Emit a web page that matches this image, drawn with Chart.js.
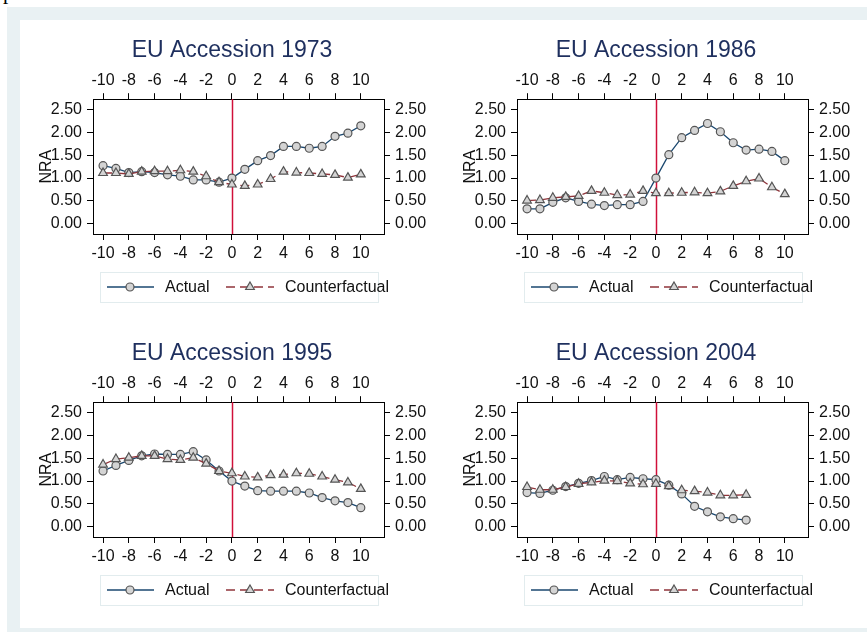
<!DOCTYPE html>
<html>
<head>
<meta charset="utf-8">
<script src="https://cdn.jsdelivr.net/npm/chart.js@4.4.1/dist/chart.umd.min.js"></script>
<style>
  body { margin: 0; width: 867px; height: 632px; overflow: hidden; background: #fff; position: relative; }
  #cut { position: absolute; left: 3px; top: -20px; font: 21px "Liberation Serif", serif; color: #000; }
  #frame { position: absolute; left: 7px; top: 7px; width: 860px; height: 625px; background: #e9f1f3; }
  #inner { position: absolute; left: 20px; top: 20px; width: 847px; height: 608px; background: #fff; }
  canvas { position: absolute; }
</style>
</head>
<body>
<div id="cut">period</div>
<div id="frame"></div>
<div id="inner"></div>
<canvas id="c1973" width="424" height="303" style="left:20px;top:20px"></canvas>
<canvas id="c1986" width="424" height="303" style="left:444px;top:20px"></canvas>
<canvas id="c1995" width="424" height="303" style="left:20px;top:323px"></canvas>
<canvas id="c2004" width="424" height="303" style="left:444px;top:323px"></canvas>
<script>
// years relative to accession
const periods = [-10, -9, -8, -7, -6, -5, -4, -3, -2, -1, 0, 1, 2, 3, 4, 5, 6, 7, 8, 9, 10];
const periods2004 = [-10, -9, -8, -7, -6, -5, -4, -3, -2, -1, 0, 1, 2, 3, 4, 5, 6, 7];
const xTicks = [-10, -8, -6, -4, -2, 0, 2, 4, 6, 8, 10];
const yTicks = [0, 0.5, 1, 1.5, 2, 2.5];
const accessionYear = 0;

const actual1973 = [1.27, 1.21, 1.12, 1.14, 1.12, 1.07, 1.04, 0.96, 0.96, 0.91, 1.00, 1.19, 1.38, 1.49, 1.69, 1.69, 1.65, 1.69, 1.91, 1.98, 2.14];
const cf1973 = [1.11, 1.11, 1.09, 1.14, 1.15, 1.15, 1.17, 1.14, 1.04, 0.91, 0.86, 0.83, 0.86, 0.98, 1.14, 1.12, 1.11, 1.09, 1.07, 1.01, 1.08];

const actual1986 = [0.33, 0.33, 0.47, 0.57, 0.49, 0.43, 0.40, 0.42, 0.42, 0.49, 1.00, 1.51, 1.88, 2.04, 2.19, 2.01, 1.77, 1.61, 1.63, 1.58, 1.38];
const cf1986 = [0.51, 0.52, 0.57, 0.59, 0.61, 0.72, 0.68, 0.63, 0.64, 0.72, 0.67, 0.67, 0.68, 0.69, 0.67, 0.71, 0.83, 0.93, 0.99, 0.80, 0.65];

const actual1995 = [1.22, 1.34, 1.45, 1.55, 1.59, 1.58, 1.58, 1.64, 1.46, 1.22, 1.00, 0.89, 0.79, 0.78, 0.78, 0.78, 0.74, 0.64, 0.57, 0.53, 0.42];
const cf1995 = [1.36, 1.48, 1.51, 1.55, 1.55, 1.48, 1.46, 1.51, 1.38, 1.22, 1.17, 1.10, 1.08, 1.13, 1.14, 1.17, 1.16, 1.10, 1.03, 0.97, 0.83];

const actual2004 = [0.75, 0.73, 0.80, 0.88, 0.95, 1.01, 1.10, 1.03, 1.08, 1.05, 1.03, 0.91, 0.72, 0.45, 0.33, 0.22, 0.18, 0.15];
const cf2004 = [0.87, 0.81, 0.81, 0.87, 0.94, 0.97, 1.01, 1.00, 0.95, 0.93, 0.94, 0.89, 0.80, 0.78, 0.75, 0.69, 0.69, 0.70];

const FONT = '"Liberation Sans", Arial, sans-serif';
const navy = '#1a476f';
const maroon = '#90353b';
const markerFill = '#d4d4d4';
const markerEdge = '#555555';

// vertical line at the accession year
const accessionLine = {
  id: 'accessionLine',
  beforeDatasetsDraw(chart) {
    const { ctx, chartArea: a, scales } = chart;
    const x = Math.round(scales.x.getPixelForValue(accessionYear)) + 0.5;
    ctx.save();
    ctx.strokeStyle = '#d0103a';
    ctx.lineWidth = 1.5;
    ctx.beginPath();
    ctx.moveTo(x, a.top);
    ctx.lineTo(x, a.bottom);
    ctx.stroke();
    ctx.restore();
  }
};

// stata-style legend: line + marker + label, in a light box under the plot
const legendBox = {
  id: 'legendBox',
  afterDraw(chart) {
    const { ctx, chartArea: a } = chart;
    const cy = a.bottom + 53;
    const items = [
      { ds: chart.data.datasets[0], from: 14, to: 61, mark: 37, text: 72 },
      { ds: chart.data.datasets[1], from: 133, to: 181, mark: 157, text: 192 }
    ];
    ctx.save();
    ctx.strokeStyle = '#e2ecee';
    ctx.lineWidth = 1;
    ctx.strokeRect(a.left + 7.5, cy - 14.5, 278, 30);
    items.forEach(it => {
      ctx.strokeStyle = it.ds.borderColor;
      ctx.lineWidth = 1.3;
      ctx.setLineDash(it.ds.borderDash || []);
      ctx.beginPath();
      ctx.moveTo(a.left + it.from, cy);
      ctx.lineTo(a.left + it.to, cy);
      ctx.stroke();
      ctx.setLineDash([]);
      ctx.fillStyle = markerFill;
      ctx.strokeStyle = markerEdge;
      ctx.lineWidth = 1.2;
      Chart.helpers.drawPoint(ctx, { pointStyle: it.ds.pointStyle, radius: it.ds.pointRadius, borderWidth: 1.2, rotation: 0 }, a.left + it.mark, cy);
      ctx.fillStyle = '#111';
      ctx.font = '16px ' + FONT;
      ctx.textBaseline = 'middle';
      ctx.fillText(it.ds.label, a.left + it.text, cy + 1);
    });
    ctx.restore();
  }
};

function xAxis(position) {
  return {
    type: 'linear', position, min: -10.78, max: 11.8,
    afterBuildTicks: s => { s.ticks = xTicks.map(v => ({ value: v })); },
    afterFit: s => { s.height = position === 'top' ? 34.6 : 89; },
    grid: { drawOnChartArea: false, drawTicks: true, tickLength: 6, color: '#000' },
    border: { display: true, color: '#000', width: 1 },
    ticks: { color: '#111', font: { size: 16, family: FONT }, padding: position === 'top' ? 3 : 4, maxRotation: 0, autoSkip: false }
  };
}

function yAxis(position) {
  return {
    type: 'linear', position, min: -0.22, max: 2.72,
    afterBuildTicks: s => { s.ticks = yTicks.map(v => ({ value: v })); },
    afterFit: s => { s.width = position === 'left' ? 73 : 60; },
    grid: { drawOnChartArea: false, drawTicks: true, tickLength: 6, color: '#000' },
    border: { display: true, color: '#000', width: 1 },
    title: position === 'left'
      ? { display: true, text: 'NRA', color: '#111', font: { size: 16, family: FONT }, padding: { top: 17, bottom: 0 } }
      : { display: false },
    ticks: { color: '#111', font: { size: 16, family: FONT }, padding: 5, callback: v => v.toFixed(2) }
  };
}

function renderPanel(id, title, xs, actual, counterfactual) {
  const ctx = document.getElementById(id).getContext('2d');
  return new Chart(ctx, {
    type: 'line',
    data: {
      datasets: [
        {
          label: 'Actual', order: 1,
          data: xs.map((x, i) => ({ x, y: actual[i] })),
          borderColor: navy, borderWidth: 1.3,
          pointStyle: 'circle', pointRadius: 4,
          pointBackgroundColor: markerFill, pointBorderColor: markerEdge, pointBorderWidth: 1.2,
          xAxisID: 'x', yAxisID: 'y'
        },
        {
          label: 'Counterfactual', order: 0,
          data: xs.map((x, i) => ({ x, y: counterfactual[i] })),
          borderColor: maroon, borderWidth: 1.3, borderDash: [9, 5],
          pointStyle: 'triangle', pointRadius: 5,
          pointBackgroundColor: markerFill, pointBorderColor: markerEdge, pointBorderWidth: 1.2,
          xAxisID: 'x', yAxisID: 'y'
        }
      ]
    },
    options: {
      responsive: false,
      animation: false,
      events: [],
      layout: { padding: 0 },
      plugins: {
        legend: { display: false },
        tooltip: { enabled: false },
        title: { display: true, text: title, color: '#1e2f5e', font: { size: 23, family: FONT, weight: 'normal' }, padding: { top: 17, bottom: 0 } }
      },
      scales: { x: xAxis('bottom'), x2: xAxis('top'), y: yAxis('left'), y2: yAxis('right') }
    },
    plugins: [accessionLine, legendBox]
  });
}

renderPanel('c1973', 'EU Accession 1973', periods, actual1973, cf1973);
renderPanel('c1986', 'EU Accession 1986', periods, actual1986, cf1986);
renderPanel('c1995', 'EU Accession 1995', periods, actual1995, cf1995);
renderPanel('c2004', 'EU Accession 2004', periods2004, actual2004, cf2004);
</script>
</body>
</html>
